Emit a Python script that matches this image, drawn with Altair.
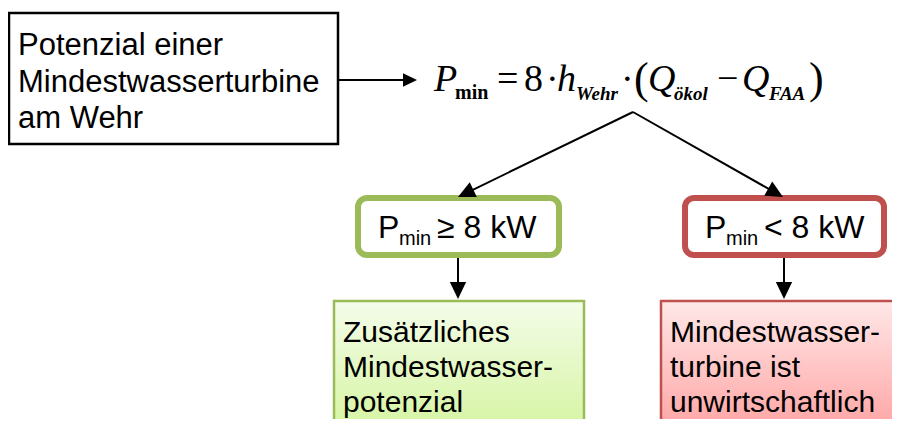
import math
import altair as alt
import pandas as pd

# ---------------- content ----------------
start_lines = ["Potenzial einer", "Mindestwasserturbine", "am Wehr"]
cond_sub = ["min", "min"]
cond_rest = ["≥ 8 kW", "< 8 kW"]
green_lines = ["Zusätzliches", "Mindestwasser-", "potenzial"]
red_lines = ["Mindestwasser-", "turbine ist", "unwirtschaftlich"]
f_var = ["P", "h", "Q", "Q"]
f_op = ["=", "8", "·", "·", "−"]
f_sub_bold = ["min"]
f_sub_it = ["Wehr", "ökol", "FAA"]
f_par = ["(", ")"]

# ---------------- layout (page pixels) ----------------
start_x = [18, 18, 18]
start_y = [55, 92, 128]
cond_px = [378, 705]
cond_subx = [399, 726]
cond_restx = [437, 764]
cond_base = 238
res_x = {"g": 343, "r": 670}
res_y = [342, 377, 412]
f_var_x = [434, 557, 648, 742]
f_op_x = [497, 524, 546, 621, 717]
f_sub_bold_x = [455]
f_sub_it_x = [576, 674, 769]
f_par_x = [634, 809]

W, H = 884, 411
xs = alt.Scale(domain=[8, 8 + W], range=[0, W], nice=False, zero=False)
ys = alt.Scale(domain=[8, 8 + H], range=[0, H], nice=False, zero=False)


def X(f="x"):
    return alt.X(f + ":Q", scale=xs, axis=None)


def Y(f="y"):
    return alt.Y(f + ":Q", scale=ys, axis=None)


def text_layer(xv, yv, tv, font, size, style="normal", weight="normal"):
    df = pd.DataFrame({"x": xv, "y": yv, "t": tv})
    return alt.Chart(df).mark_text(
        align="left", baseline="alphabetic", font=font, fontSize=size,
        fontStyle=style, fontWeight=weight, color="black"
    ).encode(x=X(), y=Y(), text="t:N")


def rect_layer(x1, x2, y1, y2, **kw):
    df = pd.DataFrame({"x": x1, "x2": x2, "y": y1, "y2": y2})
    return alt.Chart(df).mark_rect(**kw).encode(
        x=X(), x2="x2:Q", y=Y(), y2="y2:Q")


layers = []

# boxes
layers.append(rect_layer([9], [338], [13], [144], fill="white",
                         stroke="black", strokeWidth=2.5))
layers.append(rect_layer([358], [559], [198], [255], fill="white",
                         stroke="#9BBB59", strokeWidth=6, cornerRadius=9))
layers.append(rect_layer([685], [884], [198], [255], fill="white",
                         stroke="#C0504D", strokeWidth=6, cornerRadius=9))
green_grad = alt.LinearGradient(
    gradient="linear", x1=0, x2=0, y1=0, y2=1,
    stops=[alt.GradientStop(offset=0, color="#F4FCEA"),
           alt.GradientStop(offset=1, color="#D3F49C")])
red_grad = alt.LinearGradient(
    gradient="linear", x1=0, x2=0, y1=0, y2=1,
    stops=[alt.GradientStop(offset=0, color="#FFE8E8"),
           alt.GradientStop(offset=1, color="#FF9F9F")])
layers.append(rect_layer([334], [584], [301], [440], fill=green_grad,
                         stroke="#9BBB59", strokeWidth=2.5))
layers.append(rect_layer([661], [897], [301], [440], fill=red_grad,
                         stroke="#C0504D", strokeWidth=2.5))

# arrows: (x1, y1, x2(tip), y2(tip), head length)
arrows = [
    (339, 80, 417, 80, 14),
    (633, 112, 458, 197, 17),
    (633, 112, 783, 197, 17),
    (458, 258, 458, 299, 17),
    (784, 258, 784, 299, 17),
]
seg = {"x": [], "y": [], "x2": [], "y2": []}
heads = {"x": [], "y": [], "a": [], "s": []}
for x1, y1, x2, y2, h in arrows:
    dx, dy = x2 - x1, y2 - y1
    L = math.hypot(dx, dy)
    ux, uy = dx / L, dy / L
    seg["x"].append(x1)
    seg["y"].append(y1)
    seg["x2"].append(x2 - ux * h * 0.6)
    seg["y2"].append(y2 - uy * h * 0.6)
    heads["x"].append(x2)
    heads["y"].append(y2)
    heads["a"].append((math.degrees(math.atan2(dy, dx)) + 90) % 360)
    heads["s"].append((2 * h) ** 2)

layers.append(alt.Chart(pd.DataFrame(seg)).mark_rule(
    color="black", strokeWidth=2).encode(x=X(), y=Y(), x2="x2:Q", y2="y2:Q"))
layers.append(alt.Chart(pd.DataFrame(heads)).mark_point(
    shape="M0,0L0.48,1L-0.48,1Z", filled=True, color="black", opacity=1,
    strokeWidth=0).encode(
    x=X(), y=Y(),
    angle=alt.Angle("a:Q", scale=None),
    size=alt.Size("s:Q", scale=None)))

# start box text
layers.append(text_layer(start_x, start_y, start_lines, "Liberation Sans", 31))

# formula
serif = "Liberation Serif"
layers.append(text_layer(f_var_x, [91] * 4, f_var, serif, 38, style="italic"))
layers.append(text_layer(f_op_x, [91] * 5, f_op, serif, 38))
layers.append(text_layer(f_par_x, [93, 93], f_par, serif, 44))
layers.append(text_layer(f_sub_bold_x, [99], f_sub_bold, serif, 20,
                         weight="bold"))
layers.append(text_layer(f_sub_it_x, [100] * 3, f_sub_it, serif, 19,
                         style="italic", weight="bold"))

# condition boxes text
layers.append(text_layer(cond_px, [cond_base] * 2, ["P", "P"],
                         "Liberation Sans", 32))
layers.append(text_layer(cond_subx, [cond_base + 7] * 2, cond_sub,
                         "Liberation Sans", 20))
layers.append(text_layer(cond_restx, [cond_base] * 2, cond_rest,
                         "Liberation Sans", 32))

# result boxes text
layers.append(text_layer([res_x["g"]] * 3, res_y, green_lines,
                         "Liberation Sans", 30))
layers.append(text_layer([res_x["r"]] * 3, res_y, red_lines,
                         "Liberation Sans", 30))

chart = alt.layer(*layers).properties(
    width=W, height=H, padding=0,
    autosize=alt.AutoSizeParams(type="none"),
    background="white",
).configure_view(stroke=None)

chart.save("out.html", embed_options={"renderer": "svg", "actions": False})
